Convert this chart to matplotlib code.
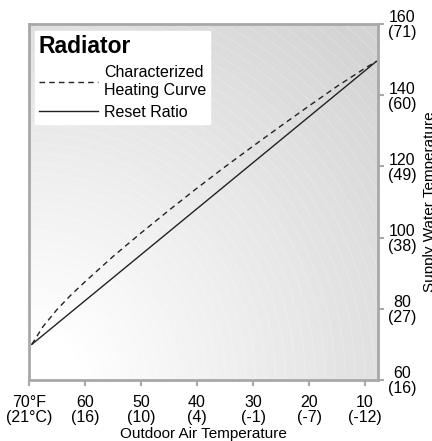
import numpy as np
import matplotlib
matplotlib.use('Agg')
import matplotlib.pyplot as plt

plt.rcParams['font.family'] = ['Liberation Sans', 'DejaVu Sans']

# axis ticks
outdoor_f = [70, 60, 50, 40, 30, 20, 10]
outdoor_labels = ['70°F\n(21°C)', '60\n(16)', '50\n(10)', '40\n(4)', '30\n(-1)', '20\n(-7)', '10\n(-12)']
supply_f = [60, 80, 100, 120, 140, 160]
supply_labels = ['60\n(16)', '80\n(27)', '100\n(38)', '120\n(49)', '140\n(60)', '160\n(71)']

# characterized heating curve
curve_x = [69.5, 67.5, 65, 62.5, 60, 55, 50, 45, 40, 35, 30, 25, 20, 15, 10, 8]
curve_y = [70, 75, 79.8, 83.9, 87.6, 94.7, 101.3, 107.7, 113.9, 119.9, 125.7, 131.4, 137, 142.5, 147.6, 149.5]

# reset ratio
reset_x = [69.5, 8]
reset_y = [70, 149.5]

fig = plt.figure(figsize=(4.32, 4.41), dpi=100)
ax = fig.add_axes([29 / 432, 61 / 441, 349 / 432, 356 / 441])

# background gradient, white in the lower left going grey to the upper right
n = 400
gx, gy = np.meshgrid(np.linspace(0, 1, n), np.linspace(0, 1, n))
r = np.hypot(gx * 349, gy * 356) / 356
v = 1 - 0.17 * np.clip((r - 0.12) / 1.2, 0, 1)
ax.imshow(v, cmap='gray', vmin=0, vmax=1, origin='lower', extent=[0, 1, 0, 1],
          transform=ax.transAxes, aspect='auto', zorder=0, interpolation='bilinear')
ax.contour(gx, gy, r, levels=np.arange(0.3, 1.5, 0.028), colors='white',
           linewidths=0.4, alpha=0.35, transform=ax.transAxes, zorder=0.5)

ax.plot(curve_x, curve_y, color='#222222', lw=1.0, dashes=(4, 3),
        label='Characterized\nHeating Curve', zorder=3)
ax.plot(reset_x, reset_y, color='#222222', lw=1.0, label='Reset Ratio', zorder=3)

ax.set_xlim(70, 7.7)
ax.set_ylim(60, 160)

ax.set_xticks(outdoor_f)
ax.set_xticklabels(outdoor_labels, fontsize=11.5, linespacing=1.0)
ax.yaxis.tick_right()
ax.set_yticks(supply_f)
ax.set_yticklabels(supply_labels, fontsize=11.5, linespacing=1.0, multialignment='center')
ax.tick_params(axis='both', color='#a8a8a8', length=4, width=1.5)
ax.tick_params(axis='x', pad=6.5)
ax.tick_params(axis='y', pad=3)

for s in ax.spines.values():
    s.set_color('#a8a8a8')
    s.set_linewidth(2.0)

ax.set_xlabel('Outdoor Air Temperature', fontsize=11, labelpad=2)
ax.yaxis.set_label_position('right')
ax.set_ylabel('Supply Water Temperature', fontsize=11, labelpad=5)

leg = ax.legend(loc='upper left', bbox_to_anchor=(0.017, 0.98), borderaxespad=0,
                title='Radiator', fontsize=11.5, frameon=True, fancybox=False,
                framealpha=1, edgecolor='white', handlelength=3.7, handletextpad=0.37,
                borderpad=0.25, labelspacing=0.45, alignment='left')
leg.get_title().set_fontsize(16.5)
leg.get_title().set_fontweight('bold')
leg.set_zorder(5)

fig.savefig('out.png', dpi=100)
